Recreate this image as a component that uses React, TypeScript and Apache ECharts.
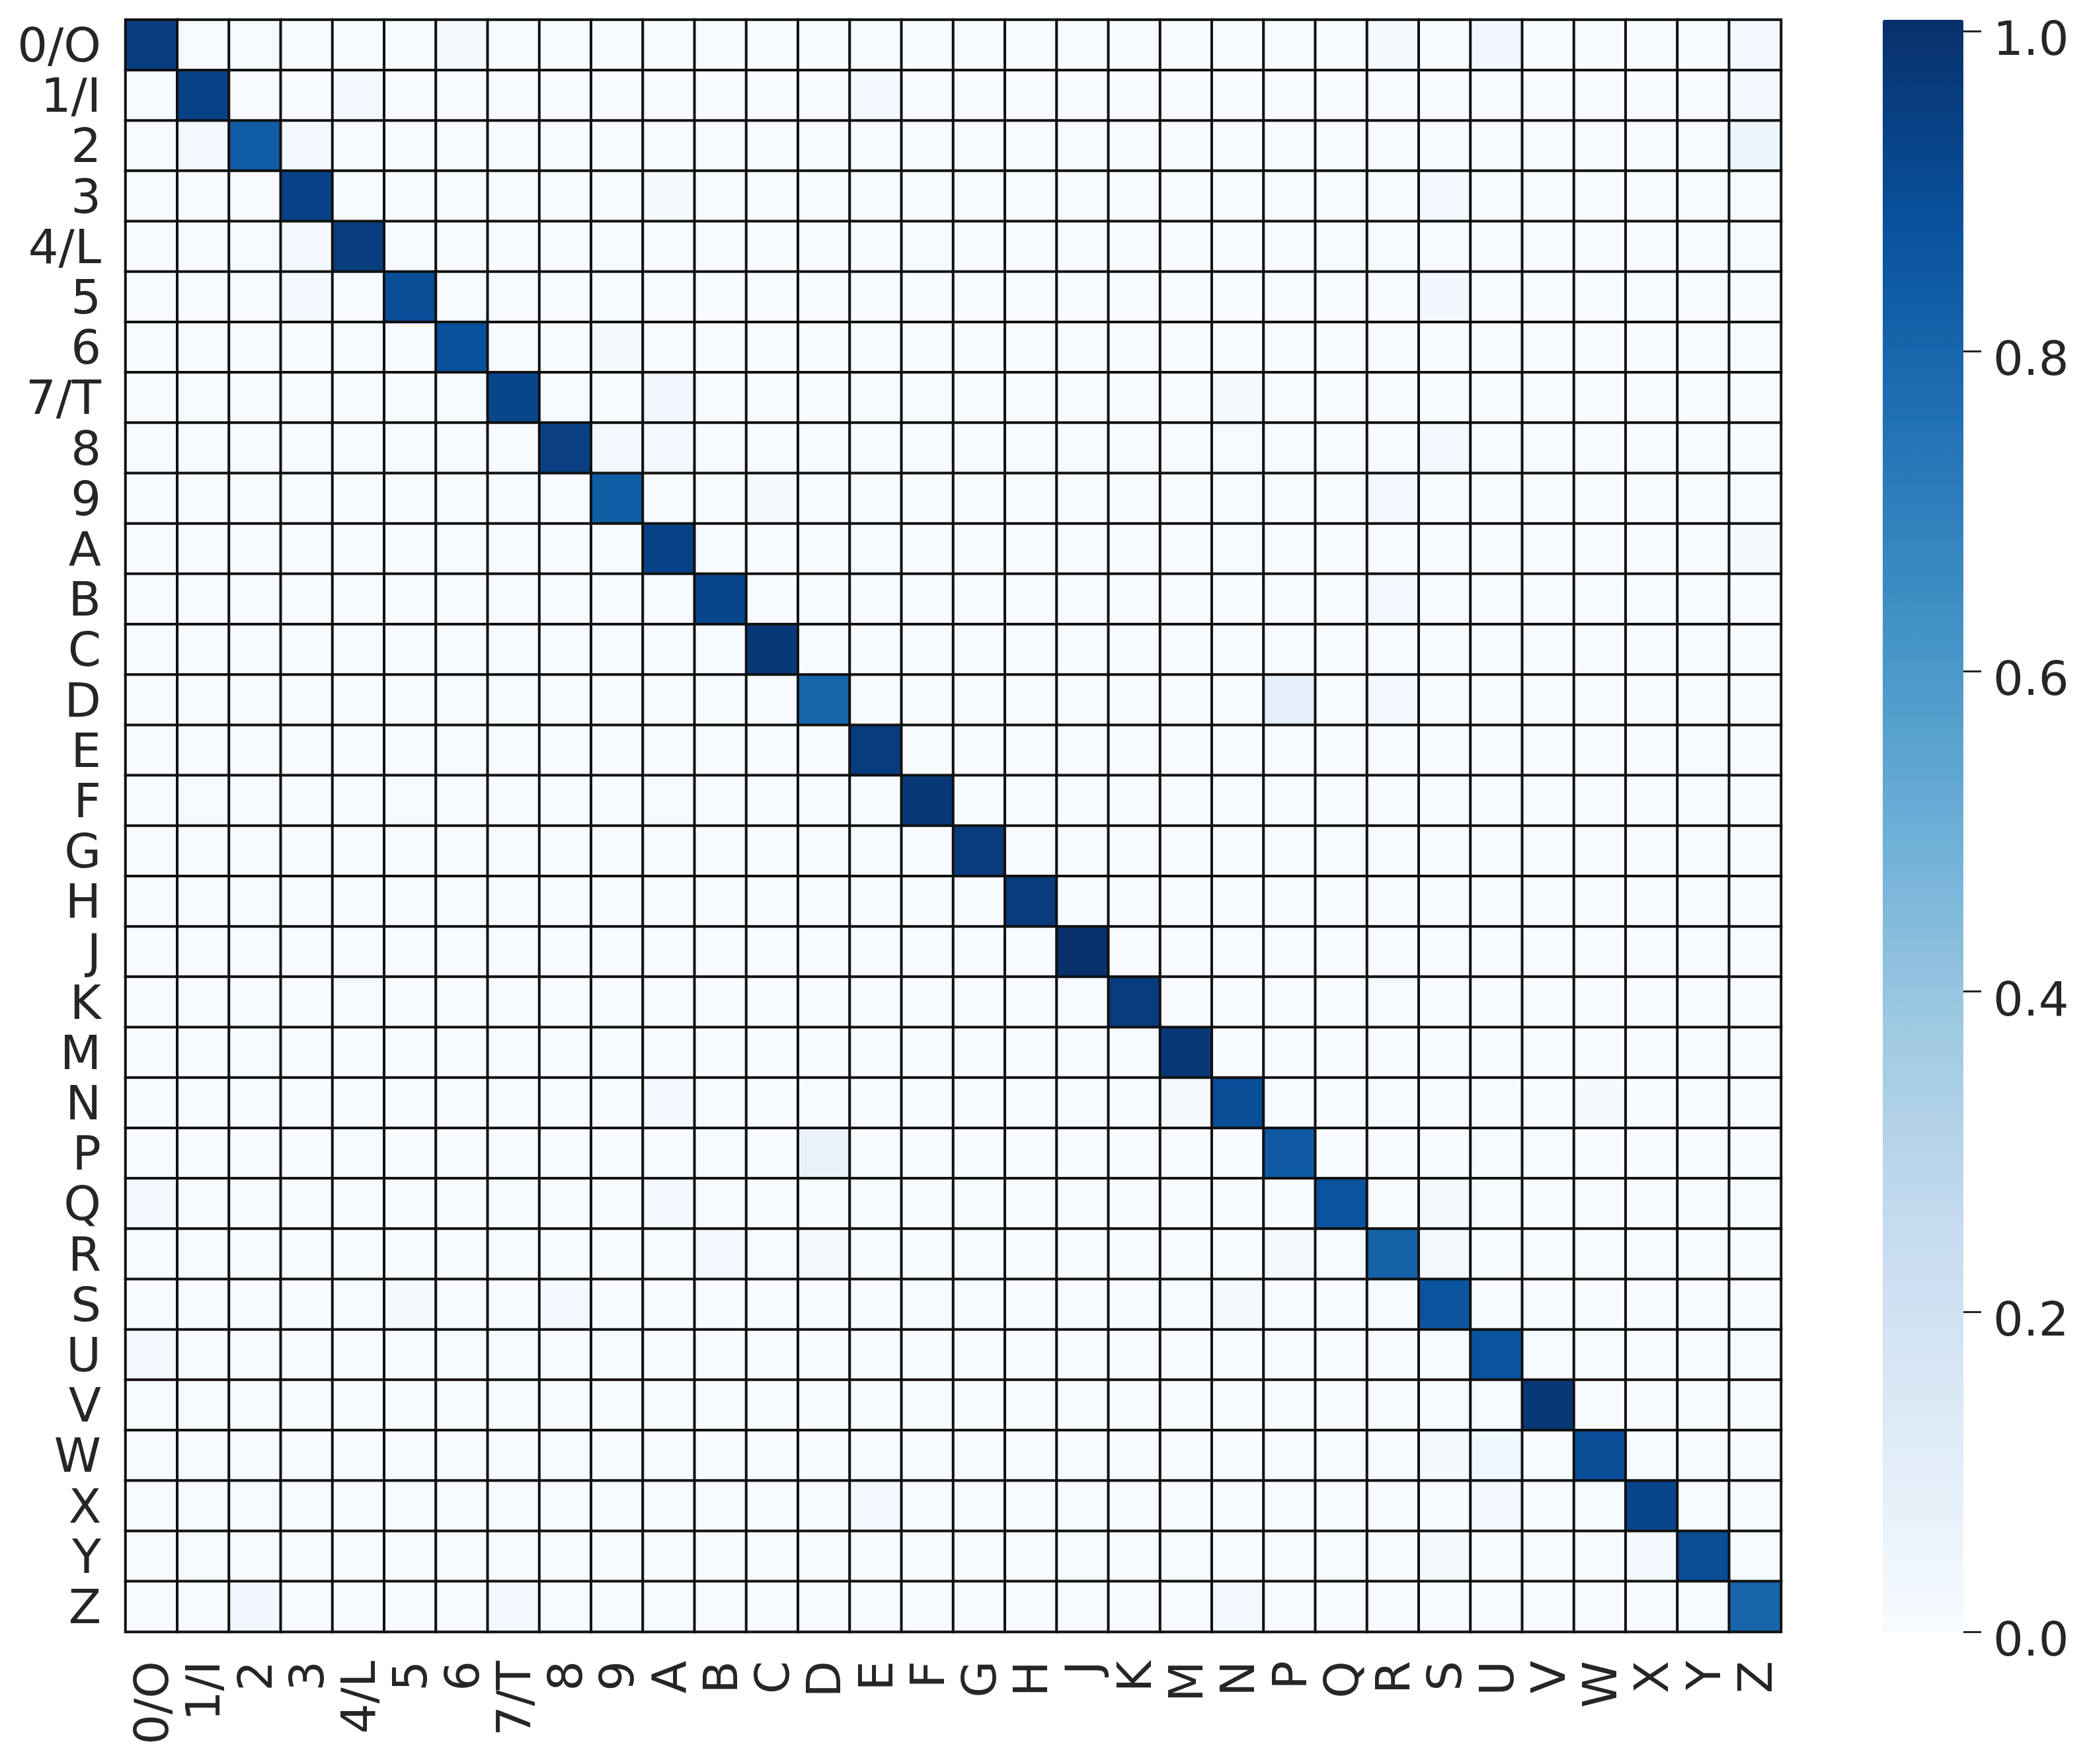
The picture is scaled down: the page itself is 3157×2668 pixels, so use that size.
import React, { useEffect, useRef } from "react";
import * as echarts from "echarts";

const categories = ["0/O","1/I","2","3","4/L","5","6","7/T","8","9","A","B","C","D","E","F","G","H","J","K","M","N","P","Q","R","S","U","V","W","X","Y","Z"];

// diagonal (correct-class) rates, row order
const diagonal = [0.95,0.93,0.83,0.93,0.95,0.89,0.88,0.92,0.94,0.83,0.93,0.92,0.97,0.8,0.96,0.97,0.96,0.96,1.0,0.96,0.97,0.89,0.84,0.87,0.81,0.86,0.87,0.97,0.89,0.92,0.89,0.8];

// off-diagonal confusions: [row, col, value]; unlisted cells are ~0
const offDiagonal: [number, number, number][] = [
  [0,1,0.01],[0,2,0.01],[0,6,0.015],[0,24,0.015],[0,26,0.03],[0,31,0.02],
  [1,0,0.01],[1,4,0.02],[1,14,0.02],[1,31,0.02],
  [2,1,0.02],[2,3,0.025],[2,31,0.05],
  [3,10,0.015],[3,23,0.01],[3,25,0.02],[3,31,0.01],
  [4,2,0.01],[4,3,0.025],[4,9,0.01],[4,15,0.01],[4,23,0.01],[4,24,0.01],[4,31,0.01],
  [5,3,0.02],[5,6,0.01],[5,9,0.01],[5,25,0.03],[5,29,0.01],
  [6,0,0.01],[6,4,0.01],[6,9,0.015],[6,14,0.01],[6,31,0.01],
  [7,1,0.01],[7,5,0.01],[7,6,0.01],[7,8,0.01],[7,10,0.03],[7,14,0.01],[7,15,0.01],[7,21,0.015],
  [8,9,0.02],[8,10,0.02],[8,21,0.01],[8,25,0.02],
  [9,0,0.01],[9,3,0.01],[9,7,0.01],[9,12,0.015],[9,13,0.01],[9,21,0.01],[9,24,0.02],[9,31,0.01],
  [10,6,0.01],[10,9,0.01],[10,14,0.01],[10,21,0.01],[10,31,0.015],
  [11,13,0.01],[11,24,0.02],[11,29,0.01],[11,30,0.01],
  [12,4,0.01],[12,9,0.01],
  [13,6,0.01],[13,7,0.01],[13,11,0.01],[13,22,0.09],[13,24,0.025],
  [14,6,0.01],[14,30,0.01],
  [15,1,0.01],[15,5,0.01],[15,10,0.01],
  [16,14,0.01],[16,23,0.01],
  [17,2,0.01],[17,6,0.01],
  [19,4,0.01],[19,24,0.01],
  [20,2,0.01],[20,9,0.01],
  [21,0,0.01],[21,10,0.02],[21,18,0.01],[21,20,0.015],[21,24,0.01],[21,28,0.015],
  [22,4,0.01],[22,11,0.01],[22,13,0.07],[22,26,0.01],[22,27,0.01],
  [23,0,0.02],[23,7,0.01],[23,10,0.02],[23,14,0.01],[23,16,0.01],[23,25,0.015],[23,26,0.01],[23,31,0.01],
  [24,0,0.01],[24,1,0.01],[24,11,0.02],[24,12,0.01],[24,13,0.015],[24,16,0.01],[24,22,0.015],[24,23,0.01],[24,25,0.015],[24,28,0.01],[24,29,0.01],
  [25,4,0.01],[25,5,0.015],[25,8,0.02],[25,15,0.01],[25,16,0.01],[25,20,0.01],[25,21,0.015],[25,24,0.01],
  [26,0,0.02],[26,6,0.01],[26,7,0.01],[26,9,0.01],[26,27,0.01],[26,28,0.01],[26,31,0.01],
  [27,1,0.01],[27,7,0.01],[27,15,0.01],[27,25,0.01],[27,26,0.01],
  [28,8,0.01],[28,23,0.01],[28,25,0.015],[28,26,0.035],[28,29,0.01],
  [29,2,0.01],[29,5,0.01],[29,9,0.01],[29,14,0.02],[29,26,0.02],[29,28,0.01],
  [30,1,0.01],[30,18,0.01],[30,20,0.01],[30,23,0.01],[30,25,0.015],[30,29,0.02],[30,31,0.01],
  [31,2,0.03],[31,7,0.02],[31,8,0.01],[31,9,0.01],[31,10,0.01],[31,21,0.02],[31,30,0.01],
];

const colorbarTicks = [0, 0.2, 0.4, 0.6, 0.8, 1.0];
const bluesPalette = ["#f7fbff","#deebf7","#c6dbef","#9ecae1","#6baed6","#4292c6","#2171b5","#08519c","#08306b"];

export default function App() {
  const ref = useRef<HTMLDivElement>(null);
  useEffect(() => {
    if (!ref.current) return;
    const chart = echarts.init(ref.current, null, { renderer: "svg" });
    const n = categories.length;
    const matrix: number[][] = categories.map(() => categories.map(() => 0));
    diagonal.forEach((v, i) => { matrix[i][i] = v; });
    offDiagonal.forEach(([r, c, v]) => { matrix[r][c] = v; });
    const data: [number, number, number][] = [];
    for (let r = 0; r < n; r++) for (let c = 0; c < n; c++) data.push([c, r, matrix[r][c]]);

    const font = "DejaVu Sans";
    const textColor = "#262626";
    const GL = 190, GT = 30, GW = 2504, GH = 2438;
    const CB_L = 2848, CB_W = 122;

    chart.setOption({
      animation: false,
      backgroundColor: "#ffffff",
      grid: [
        { left: GL, top: GT, width: GW, height: GH },
        { left: CB_L, top: GT, width: CB_W, height: GH },
      ],
      xAxis: [
        {
          type: "category", gridIndex: 0, data: categories, position: "bottom",
          axisLine: { show: false }, axisTick: { show: false }, splitLine: { show: false },
          axisLabel: { rotate: 90, margin: 44, fontSize: 72, fontFamily: font, color: textColor, interval: 0 },
        },
        { type: "category", gridIndex: 1, show: false, data: ["cb"] },
      ],
      yAxis: [
        {
          type: "category", gridIndex: 0, data: categories, inverse: true,
          axisLine: { show: false }, axisTick: { show: false }, splitLine: { show: false },
          axisLabel: { margin: 37, fontSize: 72, fontFamily: font, color: textColor, interval: 0 },
        },
        {
          type: "value", gridIndex: 1, position: "right", min: 0, max: 1, interval: 0.2,
          axisLine: { show: false, onZero: false },
          axisTick: { show: true, length: 27, inside: false, lineStyle: { color: textColor, width: 3 } },
          splitLine: { show: false },
          axisLabel: {
            margin: 45, fontSize: 72, fontFamily: font, color: textColor,
            formatter: (v: number) => (colorbarTicks.some((t) => Math.abs(t - v) < 1e-6) ? "{t|" + v.toFixed(1) + "}" : ""),
            rich: {
              t: { fontSize: 72, fontFamily: font, color: textColor, lineHeight: 72, padding: [22, 0, 0, 0] },
            },
          },
        },
      ],
      visualMap: {
        type: "continuous", min: 0, max: 1, show: true, calculable: false, hoverLink: false,
        orient: "vertical", left: CB_L, top: GT, padding: 0,
        itemWidth: CB_W, itemHeight: GH, text: null, seriesIndex: 0,
        inRange: { color: bluesPalette },
      },
      series: [
        {
          type: "heatmap", xAxisIndex: 0, yAxisIndex: 0, data,
          itemStyle: { borderColor: "#111111", borderWidth: 4 },
          emphasis: { disabled: true },
        },
      ],
    });
    return () => chart.dispose();
  }, []);
  return <div ref={ref} style={{ position: "absolute", left: 0, top: 0, width: 3157, height: 2668 }} />;
}
